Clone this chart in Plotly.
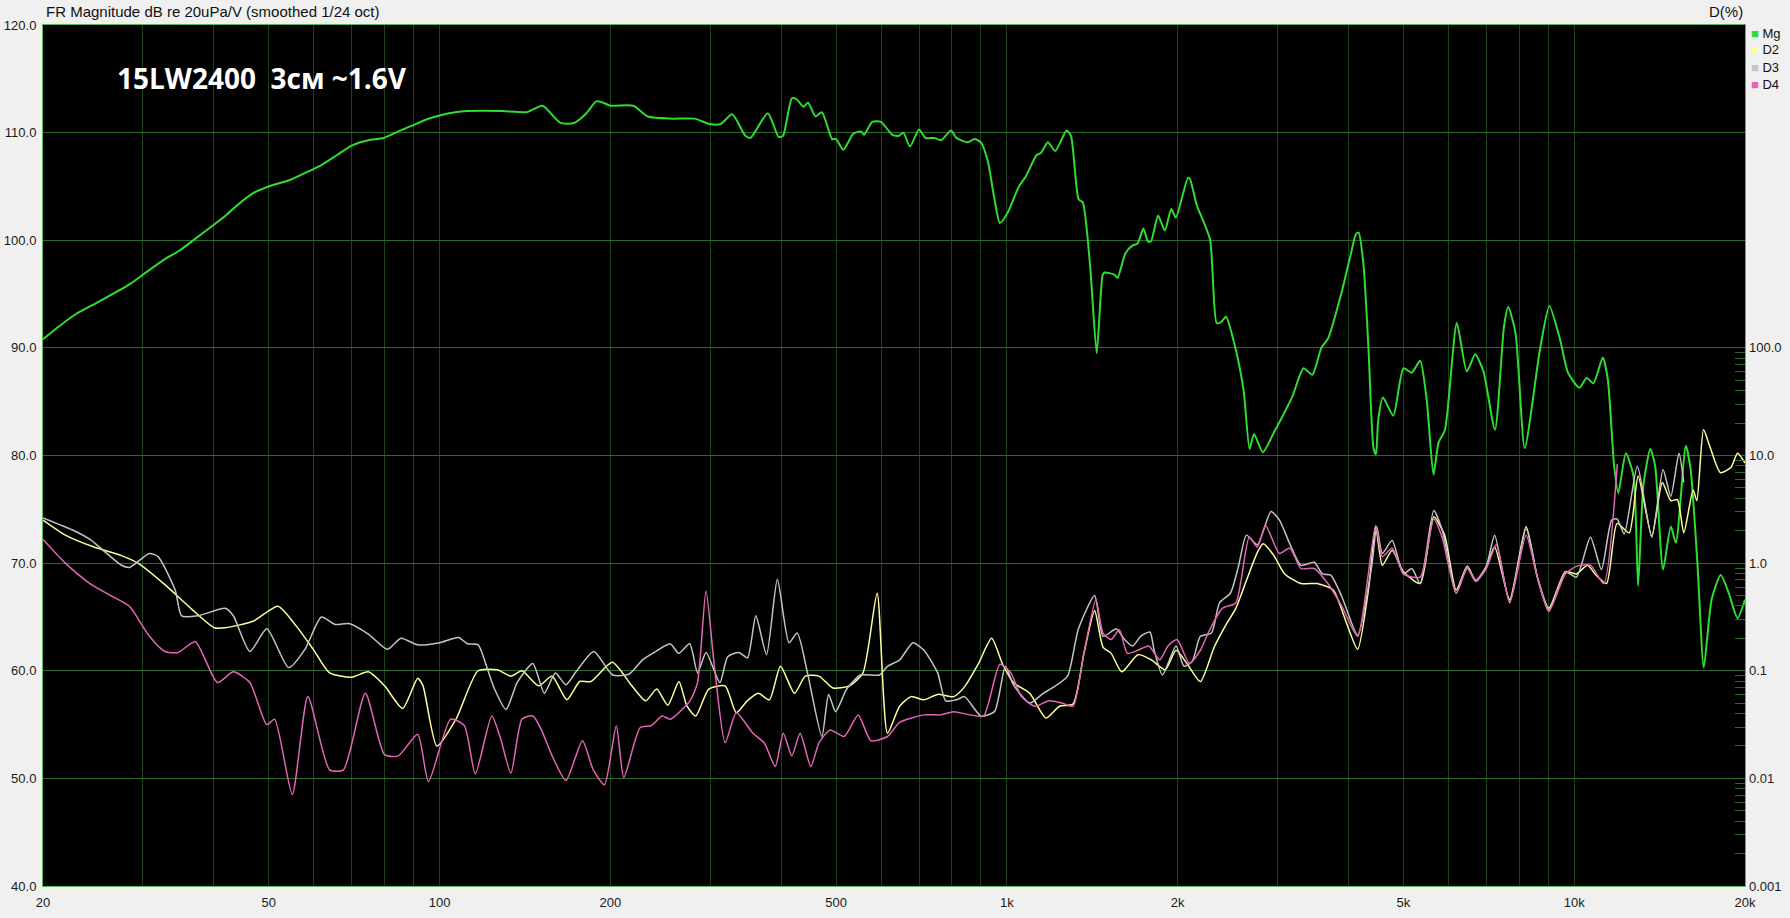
import plotly.graph_objects as go

# ---------------- data ----------------
mg_freq = [20, 21.1, 22.8, 25.1, 28.4, 30, 32.7, 34.7, 36.4, 39.9, 42.0, 44.1, 47.0, 50, 54.5, 59.3, 62.0, 65.9,
           70, 74.9, 79.6, 84.4, 89, 94.5, 100, 106.6, 111.7, 129.1, 142.5, 151.9, 163.3, 172.7, 180.8, 188.9,
           193.9, 200, 219.6, 232.8, 256.6, 281.6, 299, 313, 328, 346, 353, 379, 396, 403, 418, 426, 438, 446,
           460, 472, 492, 500, 515, 536, 553, 560, 579, 600, 628, 645, 657, 675, 700, 719, 745, 766, 797, 815,
           853, 877, 900, 925, 951, 972, 1004, 1050, 1079, 1128, 1148, 1181, 1217, 1274, 1297, 1338, 1361, 1402,
           1440, 1474, 1486, 1547, 1567, 1618, 1664, 1700, 1740, 1772, 1795, 1847, 1898, 1949, 1985, 2085, 2102,
           2160, 2280, 2343, 2386, 2433, 2520, 2613, 2678, 2727, 2825, 2960, 3186, 3333, 3455, 3583, 3684, 3888,
           4042, 4125, 4169, 4254, 4340, 4428, 4473, 4514, 4601, 4797, 5000, 5172, 5350, 5495, 5649, 5765, 5919,
           6210, 6467, 6692, 6918, 7250, 7520, 7650, 7880, 8180, 8700, 9040, 9440, 9750, 10210, 10520, 10810,
           11230, 11460, 11760, 11960, 12330, 12720, 12960, 13240, 13620, 13890, 14340, 14800, 15110, 15730,
           16040, 16500, 16920, 17460, 18120, 18730, 19400, 20000]
mg_db = [90.8, 91.8, 93.1, 94.3, 95.9, 96.8, 98.2, 99.0, 99.8, 101.4, 102.3, 103.3, 104.4, 105.0, 105.6, 106.5,
         107.0, 107.9, 108.8, 109.3, 109.5, 110.1, 110.6, 111.2, 111.6, 111.9, 112.0, 112.0, 111.9, 112.5, 110.9,
         110.9, 111.7, 112.9, 112.8, 112.5, 112.5, 111.5, 111.3, 111.3, 110.8, 110.8, 111.7, 109.7, 109.5, 111.8,
         109.6, 109.7, 113.2, 113.1, 112.4, 112.8, 111.5, 111.9, 109.4, 109.4, 108.4, 109.9, 110.1, 109.8, 111.0,
         111.0, 109.8, 109.7, 110.0, 108.7, 110.3, 109.5, 109.5, 109.3, 110.2, 109.5, 109.1, 109.4, 109.1, 107.4,
         103.8, 101.6, 102.6, 105.0, 105.9, 107.9, 108.1, 109.1, 108.3, 110.2, 109.7, 103.8, 103.5, 97.6, 89.5,
         96.7, 97.0, 96.8, 96.5, 98.8, 99.5, 99.7, 101.1, 99.9, 99.9, 102.3, 100.9, 102.9, 102.1, 105.8, 105.7,
         103.3, 100.1, 92.3, 92.4, 92.9, 90.3, 86.1, 80.6, 82.0, 80.3, 82.2, 85.5, 88.1, 87.5, 90.0, 90.9, 95.1,
         98.8, 100.6, 100.7, 97.6, 89.8, 80.7, 80.1, 83.3, 85.4, 83.7, 88.1, 87.7, 88.8, 85.2, 78.2, 81.2, 82.4,
         92.3, 87.8, 89.4, 87.8, 82.4, 92.0, 93.8, 91.4, 80.7, 89.8, 93.9, 90.8, 87.7, 86.3, 87.2, 86.7,
         89.1, 87.1, 79.0, 76.5, 80.2, 78.1, 67.9, 77.2, 80.6, 79.0, 69.4, 73.4, 71.9, 80.9,
         78.7, 69.7, 60.3, 66.6, 68.9, 67.2, 64.9, 66.6]

d2_freq = [20, 21.9, 24.6, 27.5, 29.4, 32.8, 36.6, 40.1, 41.9, 46.9, 51.9, 56.0, 59.9, 64.0, 70.0, 74.9, 80.0,
           86.1, 91.5, 93.5, 98.9, 106.9, 116.9, 126.4, 133.6, 139.7, 149.4, 157.9, 167.7, 176.6, 184.8, 201.6,
           218.3, 230.8, 241.4, 252.6, 264.2, 273.0, 282.9, 298.2, 318.7, 333.5, 348.6, 364.7, 381.4, 399.0,
           422.3, 441.3, 466.4, 493.5, 527.8, 557.6, 590.6, 615.9, 647, 678, 714, 755, 806, 842, 890, 940, 983,
           1027, 1097, 1172, 1238, 1308, 1367, 1428, 1477, 1527, 1594, 1702, 1798, 1901, 1987, 2076, 2193, 2320,
           2423, 2532, 2644, 2764, 2830, 2955, 3088, 3298, 3522, 3760, 3971, 4152, 4345, 4467, 4590, 4776, 5000,
           5352, 5655, 5909, 6193, 6478, 6705, 7000, 7240, 7695, 8225, 8610, 9020, 9646, 10090, 10560, 10920,
           11400, 11900, 12500, 12960, 13700, 14300, 14800, 15200, 15600, 16200, 16450, 16900, 17300, 18100,
           18900, 19400, 20000]
d2_pct = [2.51, 1.82, 1.41, 1.175, 1.0, 0.631, 0.372, 0.251, 0.251, 0.288, 0.398, 0.257, 0.158, 0.0955, 0.0871,
          0.0977, 0.0724, 0.0447, 0.0851, 0.0724, 0.020, 0.0355, 0.100, 0.102, 0.0891, 0.100, 0.0724, 0.0891,
          0.0537, 0.0794, 0.0794, 0.120, 0.0724, 0.0525, 0.0676, 0.0479, 0.0794, 0.0468, 0.038, 0.0676, 0.0724,
          0.0407, 0.0525, 0.0617, 0.0537, 0.110, 0.0617, 0.0891, 0.0891, 0.0692, 0.0724, 0.0955, 0.525, 0.0263,
          0.0468, 0.0575, 0.0537, 0.0603, 0.0575, 0.0708, 0.115, 0.200, 0.115, 0.0776, 0.0617, 0.0363, 0.0468,
          0.049, 0.145, 0.363, 0.166, 0.145, 0.0977, 0.141, 0.126, 0.102, 0.155, 0.117, 0.0794, 0.166, 0.257,
          0.380, 0.692, 1.26, 1.51, 1.175, 0.794, 0.646, 0.646, 0.562, 0.275, 0.158, 0.603, 2.19, 0.955, 1.32,
          0.832, 0.646, 2.69, 1.82, 0.562, 0.933, 0.676, 0.933, 1.41, 0.457, 2.19, 0.741, 0.380, 0.832, 0.794,
          0.955, 0.776, 0.646, 2.34, 1.91, 6.46, 1.78, 5.62, 3.80, 3.89, 1.91, 4.79, 3.80, 17.4, 12.6, 6.92,
          7.76, 10.5, 8.51]

d3_freq = [20, 22.5, 24.2, 27.5, 28.4, 30.8, 31.9, 34.2, 35.1, 37.5, 41.9, 43.3, 46.3, 49.6, 54.2, 57.9, 61.9,
           65.5, 69.2, 74.9, 80.9, 85.5, 91.5, 100, 108, 112, 117, 121, 125, 131, 137, 146, 153, 160, 167, 174,
           187, 202, 216, 228, 239, 255, 264, 276, 285, 295, 312, 322, 337, 349, 361, 377, 394, 413, 427, 446,
           472, 485, 499, 522, 552, 596, 616, 647, 683, 714, 755, 780, 815, 842, 900, 951, 994, 1027, 1097, 1159,
           1211, 1279, 1337, 1428, 1477, 1560, 1612, 1666, 1721, 1787, 1818, 1880, 1987, 2052, 2123, 2193, 2294,
           2370, 2477, 2560, 2644, 2764, 2921, 3023, 3153, 3298, 3482, 3599, 3720, 3893, 4152, 4395, 4487, 4590,
           4776, 5000, 5173, 5352, 5655, 5850, 6193, 6478, 6705, 7000, 7240, 7695, 8225, 8610, 9020, 9646,
           10090, 10680, 11170, 11640, 11900, 12250, 12920, 13700, 14340, 14800, 15300, 15600]
d3_pct = [2.63, 2.04, 1.66, 0.955, 0.912, 1.23, 1.15, 0.562, 0.324, 0.324, 0.380, 0.324, 0.151, 0.245, 0.107,
          0.158, 0.316, 0.269, 0.275, 0.219, 0.158, 0.200, 0.174, 0.182, 0.204, 0.178, 0.174, 0.110, 0.0676,
          0.0437, 0.0776, 0.117, 0.0617, 0.0955, 0.0741, 0.0977, 0.151, 0.0912, 0.0933, 0.126, 0.148, 0.178,
          0.145, 0.178, 0.0955, 0.148, 0.0776, 0.135, 0.148, 0.132, 0.324, 0.141, 0.708, 0.182, 0.224, 0.0912,
          0.0245, 0.0603, 0.0417, 0.0676, 0.0912, 0.0912, 0.110, 0.126, 0.182, 0.155, 0.0955, 0.0525, 0.0537,
          0.0575, 0.038, 0.0417, 0.110, 0.0741, 0.0501, 0.0617, 0.0708, 0.0891, 0.245, 0.501, 0.209, 0.245,
          0.195, 0.170, 0.209, 0.229, 0.155, 0.0912, 0.170, 0.110, 0.123, 0.209, 0.224, 0.427, 0.525, 0.933,
          1.82, 1.48, 3.02, 2.51, 1.51, 0.955, 1.02, 0.794, 0.776, 0.490, 0.214, 0.933, 2.19, 1.23, 1.62, 0.794,
          0.891, 0.646, 3.09, 2.04, 0.525, 0.933, 0.692, 0.933, 1.82, 0.437, 2.09, 0.741, 0.363, 0.832, 0.741,
          1.74, 0.871, 2.51, 2.57, 1.86, 7.94, 1.74, 7.41, 4.17, 10.5, 5.62]

d4_freq = [20, 21.9, 24.2, 26.5, 28.4, 30.8, 32.8, 34.6, 37.1, 40.6, 43.3, 46.3, 49.6, 51.2, 55.0, 58.6, 64.0,
           67.7, 74.0, 80.0, 84.6, 91.5, 95.6, 104.6, 110.6, 115.6, 123.6, 127.8, 133.6, 139.7, 146.1, 151.2,
           157.9, 167.0, 178.6, 186.6, 195.3, 204.9, 211.2, 225.7, 236.0, 246.9, 255.2, 276.3, 284.9, 294.9,
           305.1, 318.7, 333.5, 356.6, 373.4, 390.6, 403.6, 417.7, 432.1, 451.2, 466.4, 488.0, 516.7, 547.0,
           575.7, 615.9, 647, 714, 763, 806, 861, 910, 972, 1016, 1061, 1121, 1185, 1251, 1308, 1367, 1435, 1477,
           1527, 1578, 1631, 1702, 1779, 1859, 1923, 1995, 2098, 2193, 2268, 2397, 2532, 2674, 2764, 2857, 3023,
           3153, 3298, 3482, 3679, 3893, 4152, 4467, 4590, 4776, 5000, 5352, 5655, 5850, 6193, 6478, 6705, 7000,
           7288, 7695, 8225, 8610, 9020, 9646, 10090, 10680, 11270, 11910]
d4_pct = [1.66, 1.0, 0.646, 0.490, 0.398, 0.209, 0.151, 0.148, 0.186, 0.0776, 0.0977, 0.0776, 0.0316, 0.0355,
          0.00708, 0.0575, 0.012, 0.012, 0.0617, 0.0166, 0.0162, 0.0257, 0.00933, 0.0355, 0.0309, 0.011, 0.038,
          0.0245, 0.0112, 0.0355, 0.038, 0.0282, 0.0162, 0.00955, 0.0224, 0.012, 0.00871, 0.0309, 0.0102, 0.0295,
          0.0309, 0.038, 0.0355, 0.0525, 0.0776, 0.550, 0.110, 0.0214, 0.0407, 0.0263, 0.0214, 0.0129, 0.0263,
          0.0162, 0.0263, 0.0129, 0.0214, 0.0282, 0.0245, 0.0389, 0.0224, 0.0245, 0.0331, 0.0389, 0.0389, 0.0417,
          0.0389, 0.038, 0.115, 0.0955, 0.0575, 0.0468, 0.0525, 0.0501, 0.0468, 0.145, 0.457, 0.224, 0.195, 0.240,
          0.145, 0.155, 0.170, 0.126, 0.170, 0.195, 0.117, 0.155, 0.229, 0.380, 0.427, 1.74, 1.41, 2.24, 1.23,
          1.38, 0.891, 0.891, 0.646, 0.398, 0.209, 2.24, 1.148, 1.38, 0.794, 0.741, 2.57, 1.74, 0.525, 0.891,
          0.676, 0.891, 1.48, 0.427, 1.82, 0.741, 0.355, 0.794, 0.933, 0.955, 0.646, 8.32]

x_tick_vals = [20, 50, 100, 200, 500, 1000, 2000, 5000, 10000, 20000]
x_tick_text = ["20", "50", "100", "200", "500", "1k", "2k", "5k", "10k", "20k"]
pct_tick_vals = [0.001, 0.01, 0.1, 1, 10, 100]
pct_tick_text = ["0.001", "0.01", "0.1", "1.0", "10.0", "100.0"]

series_names = ["Mg", "D2", "D3", "D4"]
series_colors = ["#2fdc2f", "#ffff99", "#c4c4c4", "#e466b8"]

# ---------------- figure ----------------
fig = go.Figure()
fig.add_trace(go.Scatter(x=mg_freq, y=mg_db, name="Mg", mode="lines", yaxis="y",
                         line=dict(color=series_colors[0], width=2, shape="spline", smoothing=0.6)))
fig.add_trace(go.Scatter(x=d2_freq, y=d2_pct, name="D2", mode="lines", yaxis="y2",
                         line=dict(color=series_colors[1], width=1.5, shape="spline", smoothing=0.6)))
fig.add_trace(go.Scatter(x=d3_freq, y=d3_pct, name="D3", mode="lines", yaxis="y2",
                         line=dict(color=series_colors[2], width=1.5, shape="spline", smoothing=0.6)))
fig.add_trace(go.Scatter(x=d4_freq, y=d4_pct, name="D4", mode="lines", yaxis="y2",
                         line=dict(color=series_colors[3], width=1.5, shape="spline", smoothing=0.6)))

minor_x = [m * 10 ** e for e in range(1, 5) for m in range(2, 10)]
minor_x = [v for v in minor_x if 20 < v < 20000]
minor_pct = [m * 10 ** e for e in range(-3, 2) for m in range(2, 10)]

font = "Liberation Sans, Arial, sans-serif"
grid_h = "#2b6a2b"
grid_v = "#1a421a"
frame = "#5cb85c"

fig.update_layout(
    width=1790, height=918,
    margin=dict(l=43, r=45, t=25, b=32, autoexpand=False),
    paper_bgcolor="#f0f0f0", plot_bgcolor="#000000",
    showlegend=False,
    font=dict(family=font, size=13, color="#1a1a1a"),
    xaxis=dict(type="log", range=[1.30103, 4.30103], tickvals=x_tick_vals, ticktext=x_tick_text,
               showgrid=True, gridcolor=grid_v, gridwidth=1, zeroline=False, automargin=False,
               showline=True, linecolor=frame, linewidth=1, mirror=True, ticks="",
               ticklabelstandoff=4,
               minor=dict(tickvals=minor_x, showgrid=True, gridcolor=grid_v, gridwidth=1, ticks="")),
    yaxis=dict(range=[40, 120], dtick=10, tick0=40, tickformat=".1f", showgrid=True, gridcolor=grid_h,
               gridwidth=1, zeroline=False, showline=True, linecolor=frame, linewidth=1, mirror=True,
               ticks="", ticklabelstandoff=3, automargin=False),
    yaxis2=dict(type="log", range=[-3, 5], overlaying="y", side="right", tickvals=pct_tick_vals,
                ticktext=pct_tick_text, showgrid=False, zeroline=False, showline=False, automargin=False,
                ticks="", ticklabelstandoff=3,
                minor=dict(tickvals=minor_pct, ticks="inside", ticklen=10, tickcolor=grid_h, tickwidth=1)),
)

fig.add_annotation(text="FR Magnitude dB re 20uPa/V (smoothed 1/24 oct)", xref="paper", yref="paper",
                   x=0.0, y=1.0, xanchor="left", yanchor="bottom", yshift=3, xshift=1, showarrow=False,
                   font=dict(family=font, size=15, color="#111111"))
fig.add_annotation(text="D(%)", xref="paper", yref="paper", x=1.0, y=1.0, xanchor="right", yanchor="bottom",
                   yshift=3, showarrow=False, font=dict(family=font, size=15, color="#111111"))
fig.add_annotation(text="<b>15LW2400  3см ~1.6V</b>", xref="paper", yref="paper",
                   x=(115 - 43) / 1702, y=1 - (78 - 25) / 861, xanchor="left", yanchor="middle",
                   showarrow=False, font=dict(family="Open Sans, Noto Sans, sans-serif", size=28, color="#ffffff"))

for i, (nm, col) in enumerate(zip(series_names, series_colors)):
    fig.add_annotation(text=f"<span style='color:{col}'>■</span> {nm}", xref="paper", yref="paper",
                       x=1.0, xshift=4, y=1 - (33 + 17 * i - 25) / 861, xanchor="left", yanchor="middle",
                       showarrow=False, font=dict(family=font, size=13, color="#111111"))

fig.write_html("out.html", config={"displayModeBar": False},
               post_script="document.body.style.margin='0';document.body.style.background='#f0f0f0';")
